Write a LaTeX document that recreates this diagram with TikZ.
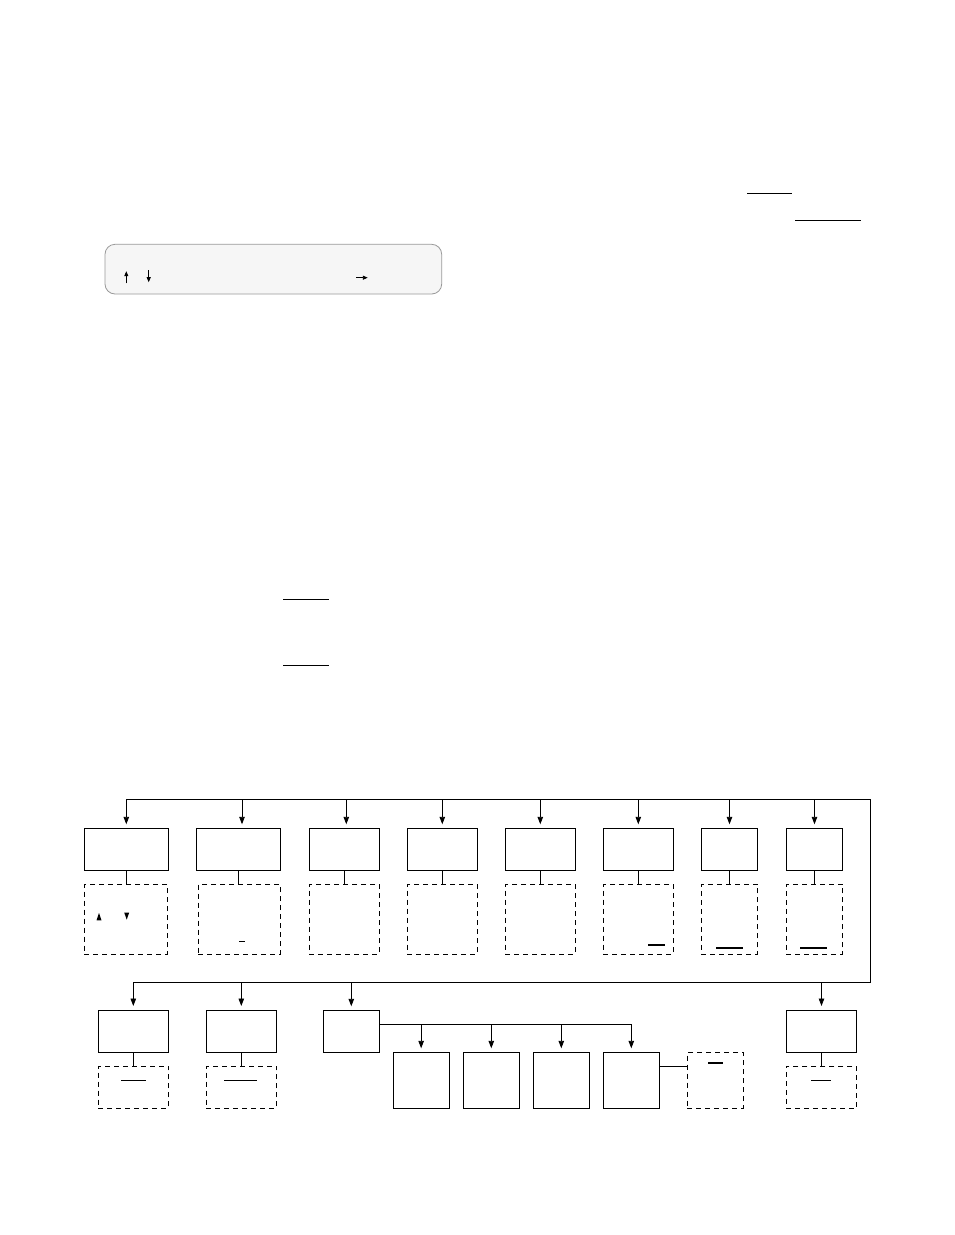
\documentclass[tikz,border=0pt]{standalone}
\usetikzlibrary{arrows.meta}
\newcommand\boxat[6]{\node[#1, anchor=north west, minimum width={(#4-#2)*1pt}, minimum height={(#5-#3)*1pt}] (#6) at (#2,#3) {};}
\begin{document}
\begin{tikzpicture}[x=1pt,y=-1pt,
  solidbox/.style={draw, line width=0.9pt, inner sep=0pt, outer sep=0pt},
  dashbox/.style={draw, line width=0.9pt, dash pattern=on 5pt off 4pt, inner sep=0pt, outer sep=0pt},
  panel/.style={draw=gray!80, fill=gray!7, line width=0.8pt, rounded corners=10pt, inner sep=0pt, outer sep=0pt},
  wire/.style={line width=0.9pt},
  arr/.style={line width=0.9pt, -{Triangle[length=7.5pt,width=5.5pt]}, shorten >=4pt},
  tinyarr/.style={line width=0.9pt, -{Triangle[length=5pt,width=4pt]}},
  bar/.style={line width=1.1pt},
  tri/.style={fill=black}]
\useasboundingbox (0,0) rectangle (954,1235);

% top panel
\boxat{panel}{105}{244.3}{441.7}{294}{P}
\draw[tinyarr] (126.3,283.3) -- (126.3,271.2);
\draw[tinyarr] (148.7,270) -- (148.7,282.2);
\draw[tinyarr] (356,277.7) -- (367.8,277.7);

% top right bars
\draw[bar] (747.3,193.3) -- (791.7,193.3);
\draw[bar] (795.3,220.3) -- (860.7,220.3);
% middle bars
\draw[bar] (283,599.3) -- (328.7,599.3);
\draw[bar] (283,665.3) -- (328.7,665.3);

% first row boxes
\boxat{solidbox}{84.3}{828.3}{168.3}{870}{A1}
\boxat{solidbox}{196.3}{828.3}{280.3}{870}{A2}
\boxat{solidbox}{309.3}{828.3}{379.3}{870}{A3}
\boxat{solidbox}{407.3}{828.3}{477.3}{870}{A4}
\boxat{solidbox}{505.3}{828.3}{575.3}{870}{A5}
\boxat{solidbox}{603.3}{828.3}{673.3}{870}{A6}
\boxat{solidbox}{701.3}{828.3}{757.7}{870}{A7}
\boxat{solidbox}{786.3}{828.3}{842.7}{870}{A8}

\boxat{dashbox}{84.3}{884.3}{167.3}{954}{D1}
\boxat{dashbox}{198.3}{884.3}{280.3}{954}{D2}
\boxat{dashbox}{309.3}{884.3}{379.3}{954}{D3}
\boxat{dashbox}{407.3}{884.3}{477.3}{954}{D4}
\boxat{dashbox}{505.3}{884.3}{575.3}{954}{D5}
\boxat{dashbox}{603.3}{884.3}{673.3}{954}{D6}
\boxat{dashbox}{701.3}{884.3}{757.7}{954}{D7}
\boxat{dashbox}{786.3}{884.3}{842.7}{954}{D8}

\foreach \i in {1,...,8} {\draw[wire] (A\i.south) -- (A\i.south |- D\i.north);}

% marks inside dashed boxes
\fill[tri] (96.5,920.3) -- (101.5,920.3) -- (99,913) -- cycle;
\fill[tri] (124.2,912.5) -- (129.2,912.5) -- (126.7,919.6) -- cycle;
\draw[bar] (239.3,941.3) -- (245.3,941.3);
\draw[bar] (648.3,945) -- (665,945);
\draw[bar] (716.3,948) -- (743,948);
\draw[bar] (800,948) -- (826.7,948);

% main bus
\coordinate (busTL) at (126,799.3);
\coordinate (busTR) at (870.3,799.3);
\coordinate (busBR) at (870.3,982.3);

% second row boxes
\boxat{solidbox}{98.3}{1010}{168.3}{1052.3}{B1}
\boxat{solidbox}{206.3}{1010}{276.3}{1052.3}{B2}
\boxat{solidbox}{323.3}{1010.3}{379.3}{1052}{B3}
\boxat{solidbox}{786.3}{1010}{856.7}{1052.3}{B4}

\boxat{dashbox}{98.3}{1066}{168.3}{1108.3}{E1}
\boxat{dashbox}{206.3}{1066}{276.3}{1108.3}{E2}
\boxat{dashbox}{786.3}{1066}{856.7}{1108.3}{E4}
\draw[wire] (B1.south) -- (E1.north);
\draw[wire] (B2.south) -- (E2.north);
\draw[wire] (B4.south) -- (E4.north);
\draw[bar] (121,1080.3) -- (146,1080.3);
\draw[bar] (224,1080.3) -- (257,1080.3);
\draw[bar] (811,1080.3) -- (831,1080.3);

\draw[wire] (A1.north |- busTL) -- (busTR) -- (busBR) -- (B1.north |- busBR);

\draw[arr] (A1.north |- busTL) -- (A1.north);
\draw[arr] ([xshift=3.7pt]A2.north |- busTL) -- ([xshift=3.7pt]A2.north);
\draw[arr] ([xshift=2pt]A3.north |- busTL) -- ([xshift=2pt]A3.north);
\foreach \i in {4,...,8} {\draw[arr] (A\i.north |- busTL) -- (A\i.north);}
\foreach \i in {1,...,4} {\draw[arr] (B\i.north |- busBR) -- (B\i.north);}

% sub boxes
\boxat{solidbox}{393}{1052.3}{449.3}{1108}{S1}
\boxat{solidbox}{463.3}{1052.3}{519.3}{1108}{S2}
\boxat{solidbox}{533.3}{1052.3}{589.3}{1108}{S3}
\boxat{solidbox}{603.3}{1052.3}{659.3}{1108}{S4}
\boxat{dashbox}{687.3}{1052.3}{743.3}{1108}{F}
\draw[bar] (708.3,1063) -- (722.7,1063);

\coordinate (sb) at (379.3,1024);
\draw[wire] (sb) -- (S4.north |- sb);
\foreach \i in {1,...,4} {\draw[arr] (S\i.north |- sb) -- (S\i.north);}
\draw[wire] (S4.east |- 0,1066.3) -- (F.west |- 0,1066.3);
\end{tikzpicture}
\end{document}
